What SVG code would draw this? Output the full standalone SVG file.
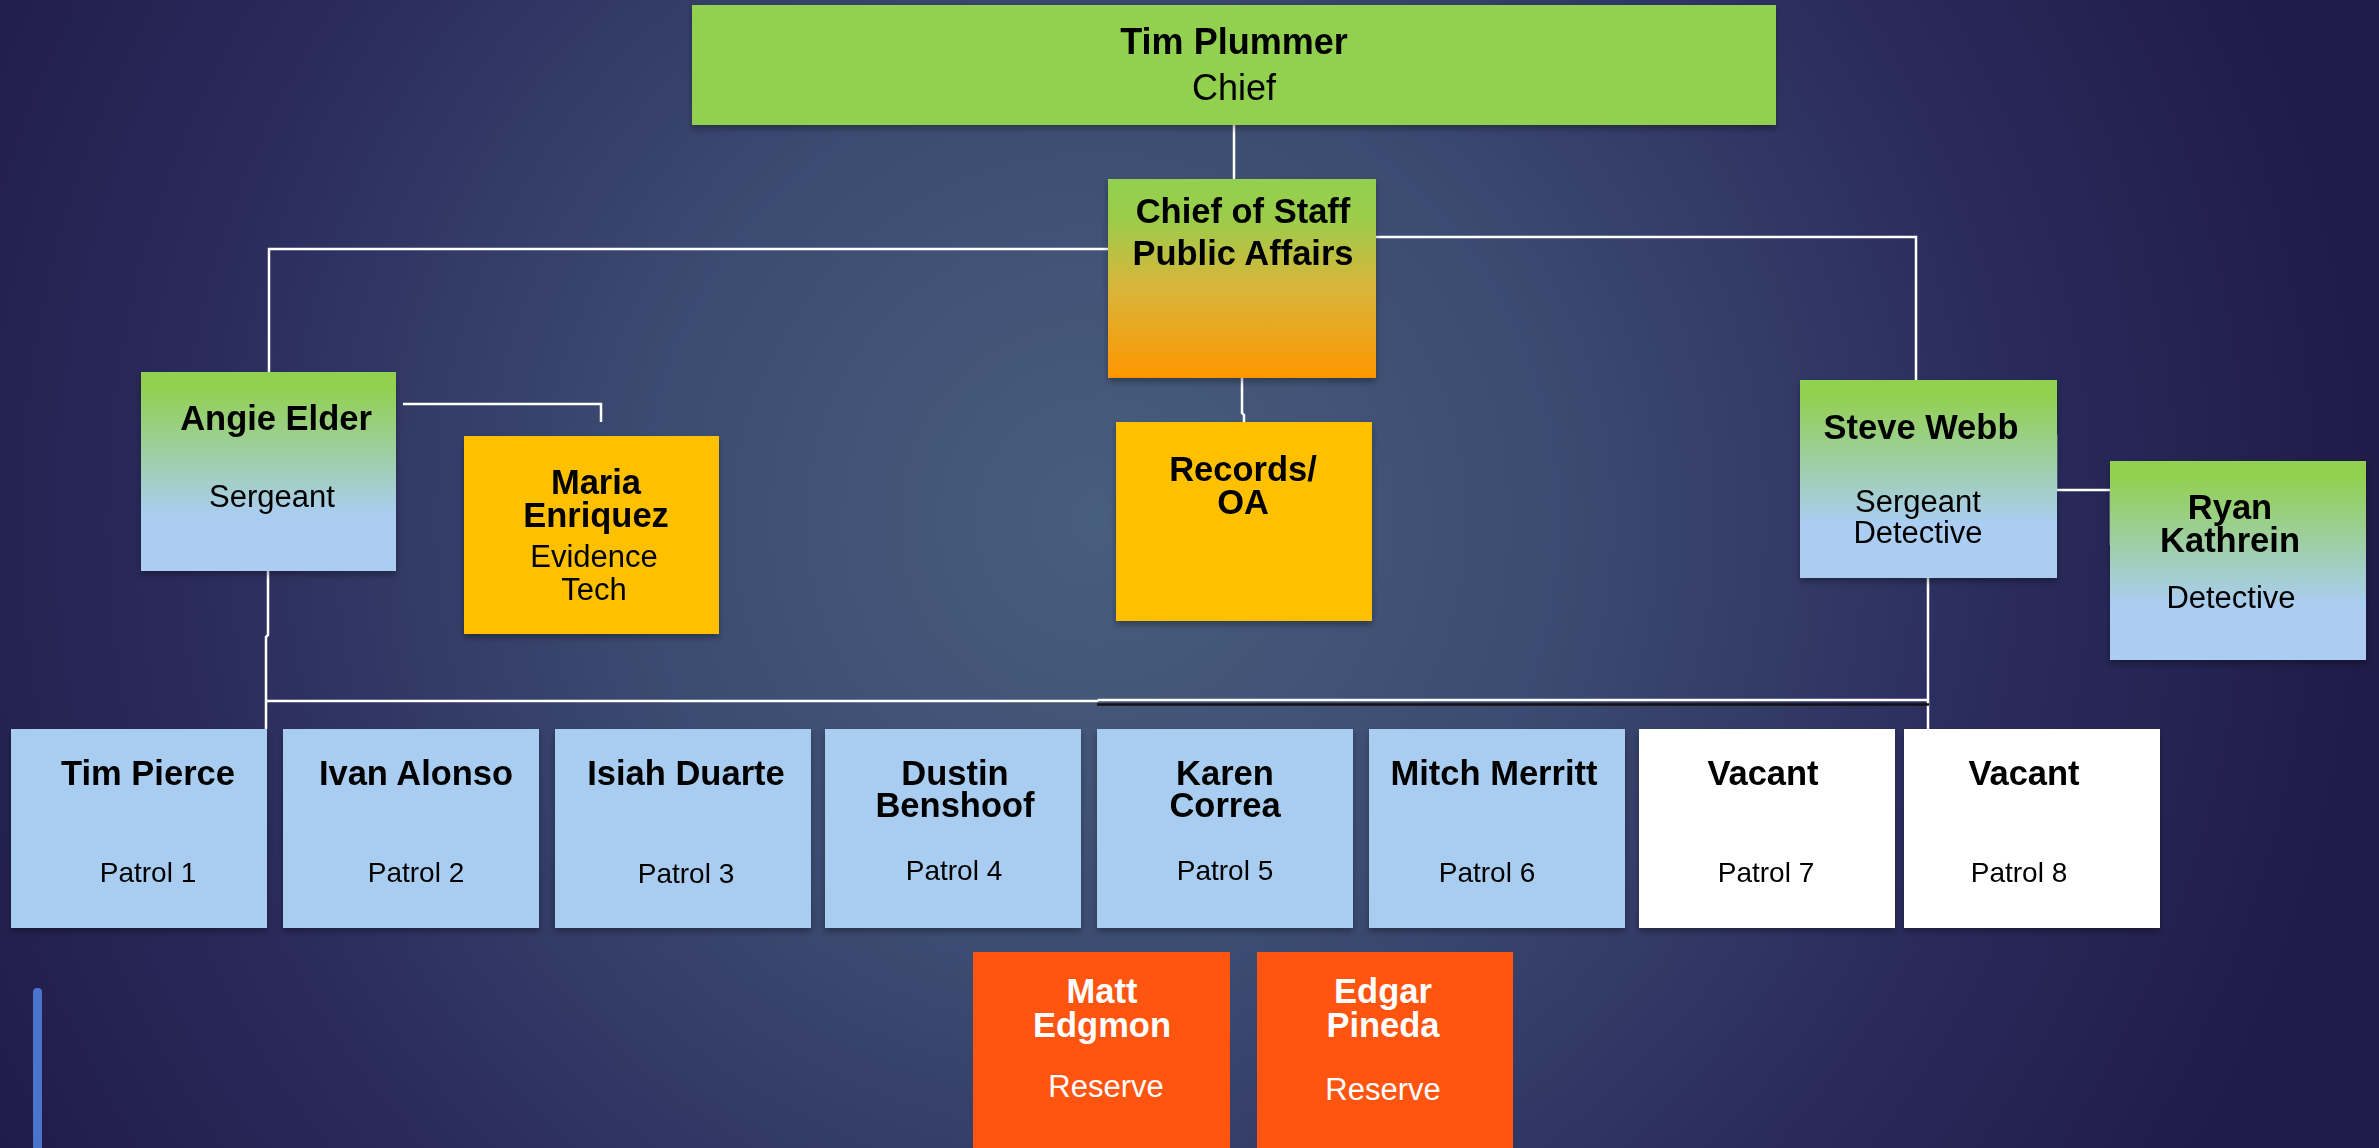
<svg xmlns="http://www.w3.org/2000/svg" width="2379" height="1148" viewBox="0 0 2379 1148">
<defs>
<radialGradient id="bg" gradientUnits="userSpaceOnUse" cx="1100" cy="520" r="1300">
<stop offset="0" stop-color="#485e7d"/>
<stop offset="0.35" stop-color="#3c4b71"/>
<stop offset="0.7" stop-color="#2a2b5c"/>
<stop offset="1" stop-color="#1f1a47"/>
</radialGradient>
<linearGradient id="gb" x1="0" y1="0" x2="0" y2="1">
<stop offset="0" stop-color="#92d050"/>
<stop offset="0.08" stop-color="#92d050"/>
<stop offset="0.72" stop-color="#aacdf1"/>
<stop offset="1" stop-color="#aacdf1"/>
</linearGradient>
<linearGradient id="go" x1="0" y1="0" x2="0" y2="1">
<stop offset="0" stop-color="#92d050"/>
<stop offset="0.2" stop-color="#9ccc4a"/>
<stop offset="0.55" stop-color="#d9b53a"/>
<stop offset="1" stop-color="#ff9600"/>
</linearGradient>
<filter id="sh" x="-10%" y="-10%" width="120%" height="130%">
<feDropShadow dx="0" dy="4" stdDeviation="3" flood-color="#000" flood-opacity="0.3"/>
</filter>
</defs>
<style>
.n{font-family:"Liberation Sans",Arial,sans-serif;font-weight:bold;font-size:34.5px;fill:#000;text-anchor:middle}
.t{font-family:"Liberation Sans",Arial,sans-serif;font-size:31px;fill:#000;text-anchor:middle}
.p{font-family:"Liberation Sans",Arial,sans-serif;font-size:28px;fill:#000;text-anchor:middle}
.w{fill:#fff}
.ln{fill:none;stroke:#fff;stroke-width:2.5}
.green{fill:#92d050}
.yel{fill:#ffc000}
.blue{fill:#a9cdf0}
.wht{fill:#fff}
.res{fill:#ff5511}
</style>
<rect width="2379" height="1148" fill="url(#bg)"/>
<rect x="33" y="988" width="9" height="170" rx="4" fill="#4a74cc"/>

<g id="connectors">
<path class="ln" d="M1234,125 V179"/>
<path class="ln" d="M1108,249 H269 V372"/>
<path class="ln" d="M1376,237 H1916 V380"/>
<path class="ln" d="M1242,378 V413 L1244,415 V423"/>
<path class="ln" d="M403,404 H601 V422"/>
<path class="ln" d="M2056,435 V490 H2111 V545"/>
<path class="ln" d="M268,571 V635 L266,637 V729"/>
<path class="ln" d="M267,701 H1097 L1099,700 H1928"/>
<path class="ln" d="M1928,578 V729"/>
<path d="M1097,704.5 H1929" stroke="#111" stroke-width="2.5" fill="none"/>
</g>

<g id="chief" filter="url(#sh)">
<rect class="green" x="692" y="5" width="1084" height="120"/>
<text class="n" x="1234" y="54" style="font-size:36px">Tim Plummer</text>
<text class="t" x="1234" y="100" style="font-size:36px">Chief</text>
</g>

<g id="chief-of-staff" filter="url(#sh)">
<rect x="1108" y="179" width="268" height="199" fill="url(#go)"/>
<text class="n" x="1243" y="223">Chief of Staff</text>
<text class="n" x="1243" y="265">Public Affairs</text>
</g>

<g id="angie" filter="url(#sh)">
<rect x="141" y="372" width="255" height="199" fill="url(#gb)"/>
<text class="n" x="276" y="430">Angie Elder</text>
<text class="t" x="272" y="507">Sergeant</text>
</g>

<g id="maria" filter="url(#sh)">
<rect class="yel" x="464" y="436" width="255" height="198"/>
<text class="n" x="596" y="494">Maria</text>
<text class="n" x="596" y="527">Enriquez</text>
<text class="t" x="594" y="567">Evidence</text>
<text class="t" x="594" y="600">Tech</text>
</g>

<g id="records" filter="url(#sh)">
<rect class="yel" x="1116" y="422" width="256" height="199"/>
<text class="n" x="1243" y="481">Records/</text>
<text class="n" x="1243" y="514">OA</text>
</g>

<g id="steve" filter="url(#sh)">
<rect x="1800" y="380" width="257" height="198" fill="url(#gb)"/>
<text class="n" x="1921" y="439">Steve Webb</text>
<text class="t" x="1918" y="512">Sergeant</text>
<text class="t" x="1918" y="543">Detective</text>
</g>

<g id="ryan" filter="url(#sh)">
<rect x="2110" y="461" width="256" height="199" fill="url(#gb)"/>
<text class="n" x="2230" y="519">Ryan</text>
<text class="n" x="2230" y="552">Kathrein</text>
<text class="t" x="2231" y="608">Detective</text>
</g>

<g id="patrol1" filter="url(#sh)">
<rect class="blue" x="11" y="729" width="256" height="199"/>
<text class="n" x="148" y="785">Tim Pierce</text>
<text class="p" x="148" y="882">Patrol 1</text>
</g>
<g id="patrol2" filter="url(#sh)">
<rect class="blue" x="283" y="729" width="256" height="199"/>
<text class="n" x="416" y="785">Ivan Alonso</text>
<text class="p" x="416" y="882">Patrol 2</text>
</g>
<g id="patrol3" filter="url(#sh)">
<rect class="blue" x="555" y="729" width="256" height="199"/>
<text class="n" x="686" y="785">Isiah Duarte</text>
<text class="p" x="686" y="883">Patrol 3</text>
</g>
<g id="patrol4" filter="url(#sh)">
<rect class="blue" x="825" y="729" width="256" height="199"/>
<text class="n" x="955" y="785">Dustin</text>
<text class="n" x="955" y="817">Benshoof</text>
<text class="p" x="954" y="880">Patrol 4</text>
</g>
<g id="patrol5" filter="url(#sh)">
<rect class="blue" x="1097" y="729" width="256" height="199"/>
<text class="n" x="1225" y="785">Karen</text>
<text class="n" x="1225" y="817">Correa</text>
<text class="p" x="1225" y="880">Patrol 5</text>
</g>
<g id="patrol6" filter="url(#sh)">
<rect class="blue" x="1369" y="729" width="256" height="199"/>
<text class="n" x="1494" y="785">Mitch Merritt</text>
<text class="p" x="1487" y="882">Patrol 6</text>
</g>
<g id="patrol7" filter="url(#sh)">
<rect class="wht" x="1639" y="729" width="256" height="199"/>
<text class="n" x="1763" y="785">Vacant</text>
<text class="p" x="1766" y="882">Patrol 7</text>
</g>
<g id="patrol8" filter="url(#sh)">
<rect class="wht" x="1904" y="729" width="256" height="199"/>
<text class="n" x="2024" y="785">Vacant</text>
<text class="p" x="2019" y="882">Patrol 8</text>
</g>

<g id="reserve1">
<rect class="res" x="973" y="952" width="257" height="200"/>
<text class="n w" x="1102" y="1003">Matt</text>
<text class="n w" x="1102" y="1037">Edgmon</text>
<text class="t w" x="1106" y="1097">Reserve</text>
</g>
<g id="reserve2">
<rect class="res" x="1257" y="952" width="256" height="200"/>
<text class="n w" x="1383" y="1003">Edgar</text>
<text class="n w" x="1383" y="1037">Pineda</text>
<text class="t w" x="1383" y="1100">Reserve</text>
</g>
</svg>
